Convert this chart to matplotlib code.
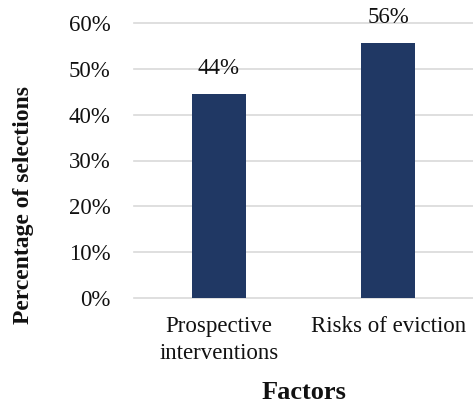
import matplotlib
matplotlib.use("Agg")
import matplotlib.pyplot as plt
from matplotlib.ticker import FuncFormatter

# Share of selections per factor
categories = ["Prospective\ninterventions", "Risks of eviction"]
shares = [0.444, 0.556]
yticks = [0.0, 0.1, 0.2, 0.3, 0.4, 0.5, 0.6]

plt.rcParams["font.family"] = ["Liberation Serif", "DejaVu Serif"]

W, H = 473, 403
fig = plt.figure(figsize=(W / 100, H / 100), dpi=100)
ax = fig.add_axes([134 / W, (H - 298) / H, (473 - 134) / W, (298 - 23) / H])

bar_color = "#203864"
grid_color = "#D9D9D9"
text_color = "#111111"
fs = 16.5

x = list(range(len(categories)))
ax.bar(x, shares, width=0.32, color=bar_color, zorder=3)

for xi, v in zip(x, shares):
    ax.annotate(f"{v * 100:.0f}%", (xi, v), xytext=(0, 11), textcoords="offset points",
                ha="center", va="bottom", fontsize=fs, color=text_color)

ax.set_xlim(-0.5, 1.5)
ax.set_ylim(0, 0.6)
ax.set_yticks(yticks)
ax.yaxis.set_major_formatter(FuncFormatter(lambda v, _: f"{v * 100:.0f}%"))
ax.set_xticks(x)
ax.set_xticklabels(categories, linespacing=1.4)

for y in yticks:
    ax.axhline(y, color=grid_color, linewidth=1.2, zorder=1, clip_on=False)

for s in ax.spines.values():
    s.set_visible(False)

ax.tick_params(axis="both", length=0, labelsize=fs, colors=text_color)
ax.tick_params(axis="y", pad=17)
ax.tick_params(axis="x", pad=13)

ax.set_xlabel("Factors", fontsize=19, fontweight="bold", labelpad=12, color=text_color)
fig.text(24 / W, (H - 205) / H, "Percentage of selections", rotation=90, fontsize=17,
         fontweight="bold", ha="center", va="center", color=text_color)

fig.savefig("out.png", dpi=100)
